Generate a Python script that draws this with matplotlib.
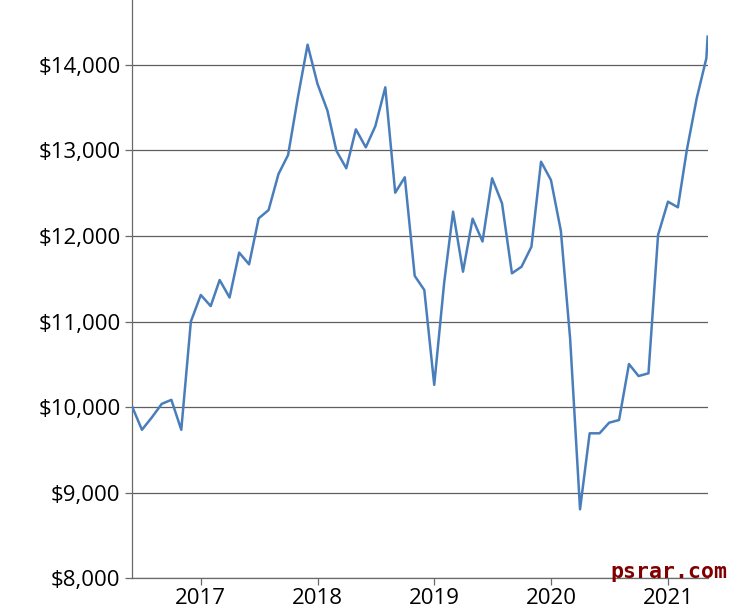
import pandas as pd
import matplotlib
matplotlib.use('Agg')
from matplotlib import pyplot as plt
from matplotlib.ticker import FuncFormatter
import matplotlib.dates as mdates

# monthly values, Jun 2016 .. May 2021, plus one last reading a few days later
months = pd.date_range('2016-06-01', '2021-05-01', freq='MS')
values = [
    10000, 9735, 9880, 10038, 10085, 9735, 11000,          # 2016
    11310, 11180, 11485, 11280, 11805, 11668, 12205, 12302,
    12723, 12945, 13626, 14234,                            # 2017
    13776, 13464, 12995, 12790, 13245, 13035, 13284, 13736,
    12505, 12685, 11533, 11368,                            # 2018
    10260, 11450, 12283, 11582, 12201, 11935, 12673, 12381,
    11563, 11640, 11874, 12867,                            # 2019
    12653, 12060, 10800, 8806, 9694, 9694, 9818, 9849,
    10503, 10363, 10395, 12011,                            # 2020
    12400, 12334, 13004, 13610, 14075,                     # 2021
]
last_date = pd.Timestamp('2021-05-05')
last_value = 14328

dates = list(months) + [last_date]
vals = values + [last_value]

year_ticks = [pd.Timestamp(f'{y}-01-01') for y in range(2017, 2022)]
y_ticks = [8000, 9000, 10000, 11000, 12000, 13000, 14000]

plt.rcParams['font.family'] = ['Open Sans', 'DejaVu Sans']

fig = plt.figure(figsize=(7.52, 6.09), dpi=100)
ax = fig.add_axes([0.176, 0.0504, 0.765, 0.9496])

ax.plot(dates, vals, color='#4a7ebb', linewidth=1.8, zorder=3)

ax.set_xlim(months[0], last_date)
ax.set_ylim(8000, 14756)

ax.set_yticks(y_ticks)
ax.yaxis.set_major_formatter(FuncFormatter(lambda v, p: '${:,.0f}'.format(v)))
ax.set_xticks(year_ticks)
ax.xaxis.set_major_formatter(mdates.DateFormatter('%Y'))

ax.grid(axis='y', color='#5f5f5f', linewidth=0.9)
ax.set_axisbelow(True)
for side in ['top', 'right']:
    ax.spines[side].set_visible(False)
for side in ['left', 'bottom']:
    ax.spines[side].set_color('#6a6a6a')
    ax.spines[side].set_linewidth(0.9)

ax.tick_params(axis='both', length=5, width=0.9, color='#6a6a6a',
               labelsize=16, labelcolor='black')
ax.tick_params(axis='x', pad=2)

fig.text(0.967, 0.044, 'psrar.com', color='#800000', fontsize=15.5,
         fontweight='bold', family='DejaVu Sans Mono', ha='right', va='bottom')

fig.savefig('out.png', dpi=100)
